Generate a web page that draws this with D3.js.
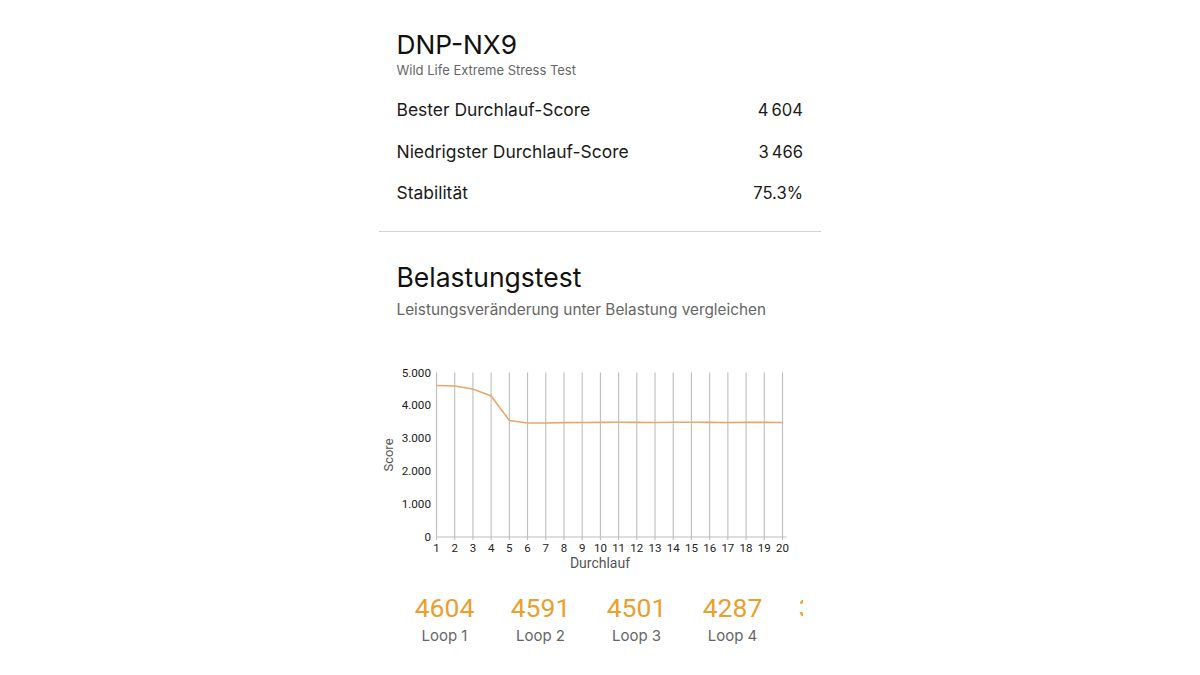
<!DOCTYPE html>
<html><head><meta charset="utf-8">
<script src="https://cdn.jsdelivr.net/npm/d3@7"></script>
<style>html,body{margin:0;padding:0;background:#fff}svg{display:block}text{font-family:Inter,"Noto Sans",sans-serif}.r{font-family:Roboto,sans-serif}</style>
</head><body><svg id="c" width="1200" height="675"></svg>
<script>
const runs = d3.range(1, 21);
const scores = [4604,4591,4501,4287,3540,3466,3466,3475,3478,3484,3486,3484,3482,3486,3488,3484,3482,3484,3484,3482];
const yTicks = [0,1000,2000,3000,4000,5000];
const yTickLabels = ["0","1.000","2.000","3.000","4.000","5.000"];
const statLabels = ["Bester Durchlauf-Score","Niedrigster Durchlauf-Score","Stabilität"];
const statValues = ["4 604","3 466","75.3%"];
const loopValues = ["4604","4591","4501","4287","3540"];
const loopLabels = ["Loop 1","Loop 2","Loop 3","Loop 4","Loop 5"];

const svg = d3.select("#c");
function t(x,y,s,size,fill,anchor="start",weight=400){
  return svg.append("text").attr("x",x).attr("y",y).attr("font-size",size).attr("fill",fill)
    .attr("text-anchor",anchor).attr("font-weight",weight).text(s);
}
t(396.5,54,"DNP-NX9",26.3,"#111");
t(396.5,75,"Wild Life Extreme Stress Test",13,"#666");
const statY = d3.scalePoint().domain(statLabels).range([116,199]);
statLabels.forEach((l,i)=>{
  t(396.5,statY(l),l,17.45,"#1a1a1a");
  t(803,statY(l),statValues[i],16.6,"#1a1a1a","end").attr("word-spacing",-1.6);
});
svg.append("line").attr("x1",379).attr("x2",821).attr("y1",231.5).attr("y2",231.5).attr("stroke","#d4d4d4");
t(396.5,287,"Belastungstest",26.5,"#111");
t(396.5,315,"Leistungsveränderung unter Belastung vergleichen",15.35,"#666");

const x = d3.scaleLinear().domain([1,20]).range([436.5,782.5]);
const y = d3.scaleLinear().domain([0,5000]).range([537,372.5]);
const g = svg.append("g");
g.selectAll("line.v").data(runs).join("line").attr("class","v")
  .attr("x1",d=>x(d)).attr("x2",d=>x(d)).attr("y1",y(5000)).attr("y2",y(0)+3)
  .attr("stroke","#bdbdbd").attr("stroke-width",1.1);
g.append("line").attr("x1",x(1)).attr("x2",786.5).attr("y1",y(0)).attr("y2",y(0)).attr("stroke","#bdbdbd");
g.append("path").datum(scores)
  .attr("fill","none").attr("stroke","#e9a86a").attr("stroke-width",1.6)
  .attr("d",d3.line().x((d,i)=>x(runs[i])).y(d=>y(d)));
g.selectAll("text.y").data(yTicks).join("text").attr("class","y r")
  .attr("x",431).attr("y",d=>y(d)+4).attr("text-anchor","end").attr("font-size",11.7).attr("fill","#222")
  .text((d,i)=>yTickLabels[i]);
g.selectAll("text.x").data(runs).join("text").attr("class","x r")
  .attr("x",d=>x(d)).attr("y",552).attr("text-anchor","middle").attr("font-size",11.5).attr("fill","#222")
  .text(d=>d);
t(600,568,"Durchlauf",14,"#555","middle").attr("class","r");
svg.append("text").attr("class","r").attr("transform","translate(393,455) rotate(-90)").attr("text-anchor","middle")
  .attr("font-size",13).attr("fill","#555").text("Score");

svg.append("defs").append("clipPath").attr("id","clip").append("rect")
  .attr("x",397).attr("y",585).attr("width",406).attr("height",70);
const lx = d3.scaleLinear().domain([0,1]).range([444.5,540.5]);
const loops = svg.append("g").attr("clip-path","url(#clip)");
loopValues.forEach((v,i)=>{
  loops.append("text").attr("class","r").attr("x",lx(i)).attr("y",617).attr("text-anchor","middle")
    .attr("font-size",26.5).attr("fill","#e8a030").text(v);
  loops.append("text").attr("x",lx(i)).attr("y",641).attr("text-anchor","middle")
    .attr("font-size",15).attr("fill","#666").text(loopLabels[i]);
});
</script></body></html>
